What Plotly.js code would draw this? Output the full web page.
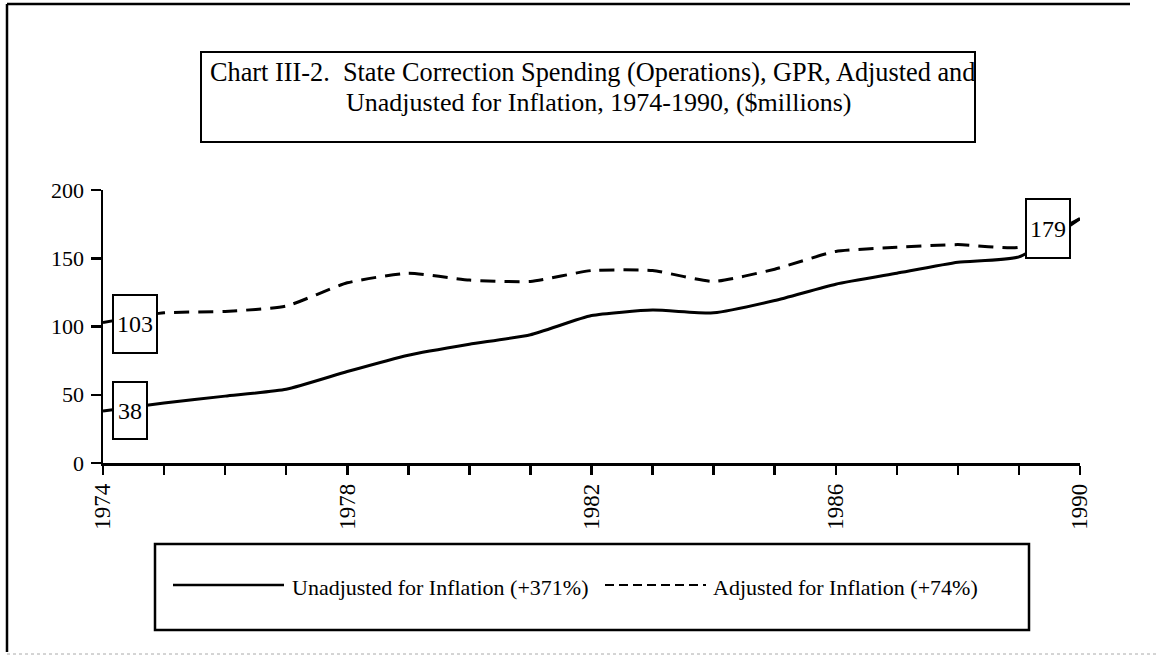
<!DOCTYPE html>
<html>
<head>
<meta charset="utf-8">
<script src="https://cdn.plot.ly/plotly-3.0.1.min.js"></script>
<style>
  html, body { margin: 0; padding: 0; background: #fff; }
  #chart { width: 1157px; height: 657px; }
</style>
</head>
<body>
<div id="chart"></div>
<script>
// ---- data ----
const years = [1974, 1975, 1976, 1977, 1978, 1979, 1980, 1981, 1982, 1983, 1984, 1985, 1986, 1987, 1988, 1989, 1990];
const unadjusted = [38, 44, 49, 54, 67, 79, 87, 94, 108, 112, 110, 119, 131, 139, 147, 151, 179];
const adjusted = [103, 110, 111, 115, 132, 139, 134, 133, 141, 141, 133, 142, 155, 158, 160, 158, 179];
const xTickLabels = ['1974', '', '', '', '1978', '', '', '', '1982', '', '', '', '1986', '', '', '', '1990'];
const yTicks = [0, 50, 100, 150, 200];
const seriesNames = ['Unadjusted for Inflation (+371%)', 'Adjusted for Inflation (+74%)'];
const titleLines = ['Chart III-2.\u00a0 State Correction Spending (Operations), GPR, Adjusted and',
                    'Unadjusted for Inflation, 1974-1990, ($millions)'];

// ---- layout geometry ----
const W = 1157, H = 657;
const M = { l: 103, r: 77, t: 190, b: 194 };
const PW = W - M.l - M.r, PH = H - M.t - M.b;
const px = v => (v - M.l) / PW;          // pixel x -> paper x
const py = v => (H - M.b - v) / PH;      // pixel y -> paper y
const FONT = 'Liberation Serif, Times New Roman, serif';

const traces = [
  { x: years, y: unadjusted, name: seriesNames[0], type: 'scatter', mode: 'lines',
    line: { color: '#000', width: 3, shape: 'spline', smoothing: 0.5 }, showlegend: false, hoverinfo: 'skip' },
  { x: years, y: adjusted, name: seriesNames[1], type: 'scatter', mode: 'lines',
    line: { color: '#000', width: 3, dash: '15px,9px', shape: 'spline', smoothing: 0.5 }, showlegend: false, hoverinfo: 'skip' }
];

const last = years.length - 1;
const annotations = [
  // title
  { xref: 'paper', yref: 'paper', x: px(592), y: py(73), text: titleLines[0], showarrow: false,
    xanchor: 'center', yanchor: 'middle', font: { family: FONT, size: 26.3, color: '#000' } },
  { xref: 'paper', yref: 'paper', x: px(598), y: py(102), text: titleLines[1], showarrow: false,
    xanchor: 'center', yanchor: 'middle', font: { family: FONT, size: 26, color: '#000' } },
  // value boxes
  { xref: 'x', yref: 'y', x: years[0] + 0.52, y: 102, text: String(adjusted[0]), showarrow: false,
    width: 42, height: 56, borderpad: 0, bgcolor: '#fff', bordercolor: '#000', borderwidth: 2,
    font: { family: FONT, size: 24, color: '#000' }, xanchor: 'center', yanchor: 'middle' },
  { xref: 'x', yref: 'y', x: years[0] + 0.44, y: 38.5, text: String(unadjusted[0]), showarrow: false,
    width: 32, height: 55, borderpad: 0, bgcolor: '#fff', bordercolor: '#000', borderwidth: 2,
    font: { family: FONT, size: 24, color: '#000' }, xanchor: 'center', yanchor: 'middle' },
  { xref: 'x', yref: 'y', x: years[last] - 0.52, y: 172, text: String(adjusted[last]), showarrow: false,
    width: 42, height: 57, borderpad: 0, bgcolor: '#fff', bordercolor: '#000', borderwidth: 2,
    font: { family: FONT, size: 24, color: '#000' }, xanchor: 'center', yanchor: 'middle' },
  // legend texts
  { xref: 'paper', yref: 'paper', x: px(290), y: py(587), text: seriesNames[0], showarrow: false,
    xanchor: 'left', yanchor: 'middle', font: { family: FONT, size: 22, color: '#000' } },
  { xref: 'paper', yref: 'paper', x: px(711), y: py(587), text: seriesNames[1], showarrow: false,
    xanchor: 'left', yanchor: 'middle', font: { family: FONT, size: 22, color: '#000' } }
];

const shapes = [
  // outer frame (top, left, faint bottom)
  { type: 'line', xref: 'paper', yref: 'paper', x0: px(7), x1: px(1130), y0: py(4), y1: py(4), line: { color: '#000', width: 2.5 } },
  { type: 'line', xref: 'paper', yref: 'paper', x0: px(7), x1: px(7), y0: py(4), y1: py(652), line: { color: '#000', width: 2.5 } },
  { type: 'line', xref: 'paper', yref: 'paper', x0: px(7), x1: px(1157), y0: py(654), y1: py(654), line: { color: '#aaa', width: 1, dash: 'dot' } },
  // title box
  { type: 'rect', xref: 'paper', yref: 'paper', x0: px(201), x1: px(975), y0: py(52), y1: py(142), line: { color: '#000', width: 2 } },
  // legend box
  { type: 'rect', xref: 'paper', yref: 'paper', x0: px(155), x1: px(1029), y0: py(544), y1: py(630), line: { color: '#000', width: 2.5 } },
  // legend samples
  { type: 'line', xref: 'paper', yref: 'paper', x0: px(173), x1: px(284), y0: py(585), y1: py(585), line: { color: '#000', width: 2.5 } },
  { type: 'line', xref: 'paper', yref: 'paper', x0: px(605), x1: px(706), y0: py(585), y1: py(585), line: { color: '#000', width: 2, dash: '9px,5px' } }
];

const layout = {
  width: W, height: H,
  margin: M,
  paper_bgcolor: '#fff', plot_bgcolor: '#fff',
  showlegend: false,
  font: { family: FONT, color: '#000' },
  xaxis: {
    range: [1974, 1990], tickmode: 'array', tickvals: years, ticktext: xTickLabels,
    ticks: 'outside', ticklen: 9, tickwidth: 2.5, tickcolor: '#000', tickangle: -90,
    ticklabelstandoff: 0,
    showline: true, linecolor: '#000', linewidth: 2.5, showgrid: false, zeroline: false,
    tickfont: { family: FONT, size: 23, color: '#000' }, fixedrange: true
  },
  xaxis2: {
    overlaying: 'x', anchor: 'y', range: [1974, 1990], tickmode: 'array', tickvals: years,
    ticks: 'inside', ticklen: 9, tickwidth: 2.5, tickcolor: '#000', showticklabels: false,
    showline: false, showgrid: false, zeroline: false, side: 'bottom', fixedrange: true
  },
  yaxis: {
    range: [0, 200], tickmode: 'array', tickvals: yTicks,
    ticks: 'outside', ticklen: 10, tickwidth: 2.5, tickcolor: '#000',
    ticklabelstandoff: 2,
    showline: true, linecolor: '#000', linewidth: 2.5, showgrid: false, zeroline: false,
    tickfont: { family: FONT, size: 22, color: '#000' }, fixedrange: true
  },
  yaxis2: {
    overlaying: 'y', anchor: 'x', range: [0, 200], tickmode: 'array', tickvals: yTicks,
    ticks: 'inside', ticklen: 7, tickwidth: 2.5, tickcolor: '#000', showticklabels: false,
    showline: false, showgrid: false, zeroline: false, side: 'left', fixedrange: true
  },
  annotations: annotations,
  shapes: shapes
};

Plotly.newPlot('chart', traces, layout, { staticPlot: true, displayModeBar: false });
</script>
</body>
</html>
